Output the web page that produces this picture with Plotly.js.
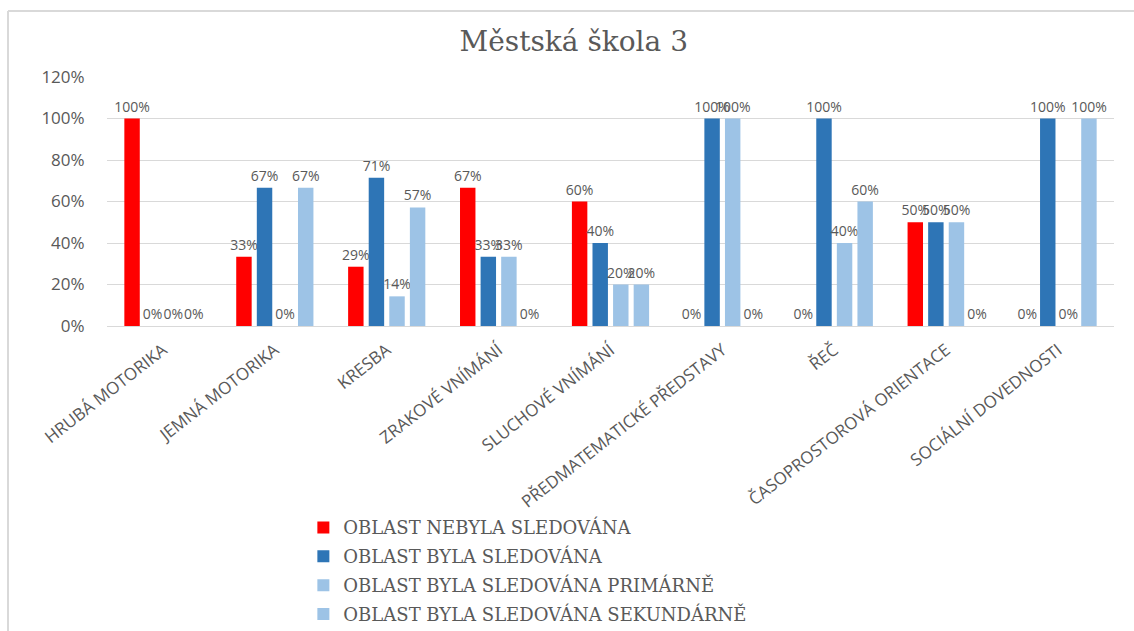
<!DOCTYPE html>
<html>
<head>
<meta charset="utf-8">
<script src="https://cdn.plot.ly/plotly-3.0.1.min.js"></script>
<style>html,body{margin:0;padding:0;background:#fff;}#chart{width:1134px;height:631px;}</style>
</head>
<body>
<div id="chart"></div>
<script>
const categories = ["HRUBÁ MOTORIKA", "JEMNÁ MOTORIKA", "KRESBA", "ZRAKOVÉ VNÍMÁNÍ", "SLUCHOVÉ VNÍMÁNÍ", "PŘEDMATEMATICKÉ PŘEDSTAVY", "ŘEČ", "ČASOPROSTOROVÁ ORIENTACE", "SOCIÁLNÍ DOVEDNOSTI"];
const seriesNames = ["OBLAST NEBYLA SLEDOVÁNA", "OBLAST BYLA SLEDOVÁNA", "OBLAST BYLA SLEDOVÁNA PRIMÁRNĚ", "OBLAST BYLA SLEDOVÁNA SEKUNDÁRNĚ"];
const nebyla = [1.00, 0.3333, 0.2857, 0.6667, 0.60, 0.00, 0.00, 0.50, 0.00];
const byla = [0.00, 0.6667, 0.7143, 0.3333, 0.40, 1.00, 1.00, 0.50, 1.00];
const primarne = [0.00, 0.00, 0.1429, 0.3333, 0.20, 1.00, 0.40, 0.50, 0.00];
const sekundarne = [0.00, 0.6667, 0.5714, 0.00, 0.20, 0.00, 0.60, 0.00, 1.00];
const seriesColors = ["#FF0000", "#2E75B6", "#9DC3E6", "#9DC3E6"];
const yTickVals = [0, 0.2, 0.4, 0.6, 0.8, 1.0, 1.2];

const gray = "#595959";
const seriesValues = [nebyla, byla, primarne, sekundarne];
const traces = seriesValues.map((vals, i) => ({
  type: "bar",
  name: seriesNames[i],
  x: categories,
  y: vals,
  marker: {color: seriesColors[i]},
  texttemplate: "%{y:.0%}",
  textposition: "outside",
  constraintext: "none",
  cliponaxis: false,
  textfont: {family: "Open Sans, sans-serif", size: 14, color: gray},
  legendgroup: "g" + i,
  hoverinfo: "x+y+name"
}));

const layout = {
  width: 1134, height: 631,
  paper_bgcolor: "#fff", plot_bgcolor: "#fff",
  margin: {l: 107, r: 20, t: 77, b: 305},
  title: {text: "Městská škola 3", font: {family: "DejaVu Serif, serif", size: 28, color: gray}, xref: "container", x: 0.506, xanchor: "center", yref: "container", y: 0.934, yanchor: "middle"},
  barmode: "group",
  bargap: 0.264,
  bargroupgap: 0.25,
  showlegend: true,
  legend: {orientation: "v", xref: "paper", x: 0.195, xanchor: "left", yref: "container", y: 0.193, yanchor: "top", font: {family: "DejaVu Serif, serif", size: 18, color: gray}, traceorder: "grouped", tracegroupgap: 2.5, bgcolor: "rgba(0,0,0,0)"},
  xaxis: {type: "category", tickangle: -38, tickfont: {family: "Open Sans, sans-serif", size: 17, color: gray}, showgrid: false, showline: false, ticks: "", automargin: false, ticklabelstandoff: 10},
  yaxis: {range: [0, 1.2], tickvals: yTickVals, tickformat: ".0%", tickfont: {family: "Open Sans, sans-serif", size: 17, color: gray}, showgrid: true, gridcolor: "#D9D9D9", gridwidth: 1, zeroline: true, zerolinecolor: "#D9D9D9", zerolinewidth: 1, showline: false, ticks: "outside", ticklen: 18, tickcolor: "rgba(0,0,0,0)", automargin: false, fixedrange: true},
  shapes: [
    {type: "line", xref: "paper", yref: "paper", x0: -0.0983, x1: 1.03, y0: 1.265, y1: 1.265, line: {color: "#D9D9D9", width: 2}},
    {type: "line", xref: "paper", yref: "paper", x0: -0.0983, x1: -0.0983, y0: 1.265, y1: -1.3, line: {color: "#D9D9D9", width: 2}}
  ]
};

Plotly.newPlot("chart", traces, layout, {displayModeBar: false, responsive: false});
</script>
</body>
</html>
